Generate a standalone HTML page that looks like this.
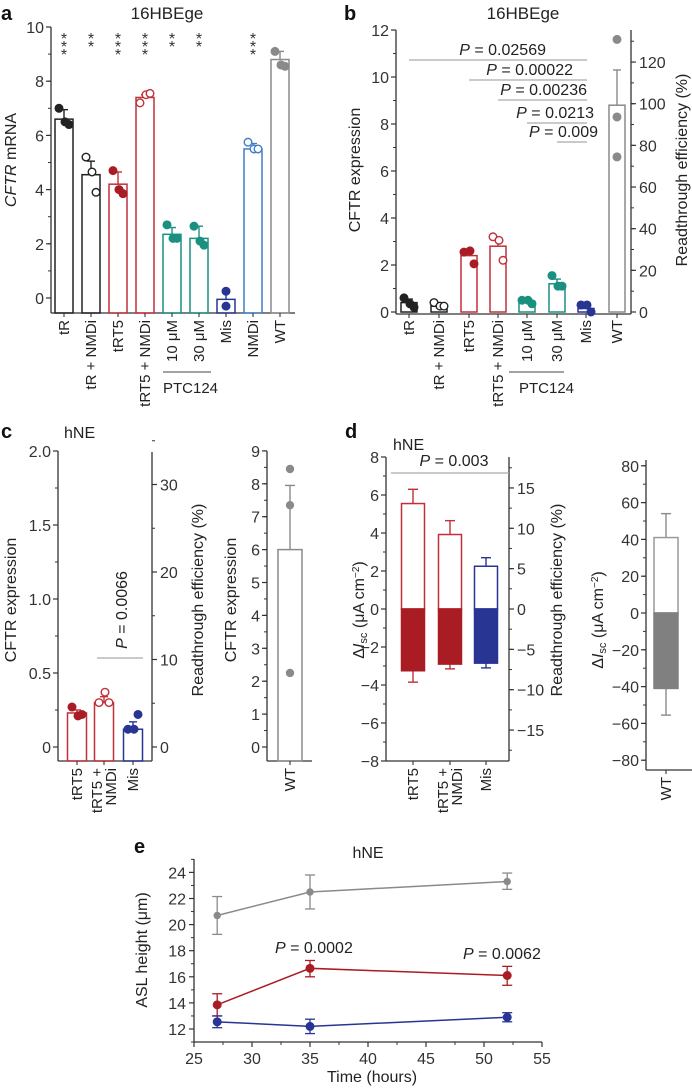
<!DOCTYPE html>
<html><head><meta charset="utf-8">
<style>
html,body{margin:0;padding:0;background:#fff;}
svg{display:block;font-family:"Liberation Sans",sans-serif;}
</style></head>
<body>
<svg id="fig" width="692" height="1088" viewBox="0 0 692 1088" xmlns="http://www.w3.org/2000/svg"></svg>
<script>
// ---------- Panel a data ----------
const aCats = ["tR","tR + NMDi","tRT5","tRT5 + NMDi","10 μM","30 μM","Mis","NMDi","WT"];
const aMeans = [6.6,4.55,4.2,7.4,2.35,2.2,-0.05,5.5,8.8];
const aErr = [6.95,5.05,4.65,7.5,2.6,2.65,0.2,5.7,9.1];
const aPts = [[7.0,6.5,6.4],[5.2,4.65,3.9],[4.7,4.0,3.85],[7.2,7.5,7.55],[2.7,2.2,2.2],[2.65,2.1,1.95],[0.25,-0.3],[5.75,5.5,5.5],[9.1,8.6,8.55]];
const aStars = ["***","**","***","***","**","**","","***",""];
const aTicks = [0,2,4,6,8,10];
// ---------- Panel b data ----------
const bCats = ["tR","tR + NMDi","tRT5","tRT5 + NMDi","10 μM","30 μM","Mis","WT"];
const bMeans = [0.4,0.25,2.4,2.8,0.45,1.2,0.15,8.8];
const bErr = [0.55,0.3,2.6,3.1,0.5,1.4,0.25,10.3];
const bPts = [[0.6,0.35,0.2],[0.4,0.25,0.25],[2.55,2.6,2.05],[3.2,3.05,2.2],[0.5,0.5,0.35],[1.55,1.1,1.1],[0.3,0.3,0.0],[11.6,8.3,6.6]];
const bTicks = [0,2,4,6,8,10,12];
const bRTicks = [0,20,40,60,80,100,120];
const bPvals = ["0.02569","0.00022","0.00236","0.0213","0.009"];
const bPfrom = [0,2,3,4,5];
// ---------- Panel c data ----------
const cCats = ["tRT5","tRT5 +|NMDi","Mis"];
const cMeans = [0.23,0.30,0.12];
const cErr = [0.25,0.34,0.17];
const cPts = [[0.27,0.21,0.22],[0.3,0.37,0.3],[0.12,0.12,0.22]];
const cTicks = [0,0.5,1.0,1.5,2.0];
const cRTicks = [0,10,20,30];
const cWTMean = [6.0];
const cWTErr = [7.95];
const cWTPts = [8.45,7.35,2.25];
const cWTTicks = [0,1,2,3,4,5,6,7,8,9];
// ---------- Panel d data ----------
const dCats = ["tRT5","tRT5 +|NMDi","Mis"];
const dPos = [5.55,3.92,2.25];
const dPosErr = [6.3,4.65,2.7];
const dNeg = [-3.25,-2.9,-2.85];
const dNegErr = [-3.85,-3.15,-3.1];
const dTicks = [-8,-6,-4,-2,0,2,4,6,8];
const dRTicks = [-15,-10,-5,0,5,10,15];
const dWTPos = [41];
const dWTPosErr = [54];
const dWTNeg = [-41];
const dWTNegErr = [-55.5];
const dWTTicks = [-80,-60,-40,-20,0,20,40,60,80];
// ---------- Panel e data ----------
const eTimes = [27,35,52];
const eWT = [20.7,22.5,23.3];
const eWTlo = [19.25,21.2,22.7];
const eWThi = [22.15,23.8,23.95];
const eRT = [13.85,16.65,16.1];
const eRTlo = [13.0,16.0,15.35];
const eRThi = [14.7,17.25,16.8];
const eMis = [12.55,12.2,12.9];
const eMislo = [12.1,11.65,12.55];
const eMishi = [13.0,12.75,13.25];
const eXTicks = [25,30,35,40,45,50,55];
const eYTicks = [12,14,16,18,20,22,24];

const NS="http://www.w3.org/2000/svg";
const svg=document.getElementById('fig');
const AX="#333";
const TF=16, LF=15;
function mk(tag,attrs,name,parent){
  const e=document.createElementNS(NS,tag);
  for(const k in attrs) e.setAttribute(k,attrs[k]);
  
  
  (parent||svg).appendChild(e);
  return e;
}
function line(x1,y1,x2,y2,c,w,name){return mk('line',{x1,y1,x2,y2,stroke:c,'stroke-width':w||1},name);}
function text(x,y,s,o,name){
  o=o||{};
  const t=mk('text',{x,y,'font-size':o.fs||TF,fill:o.fill||'#222','text-anchor':o.anchor||'start'},name);
  if(o.rot) t.setAttribute('transform','rotate(-90,'+x+','+y+')');
  if(o.fw) t.setAttribute('font-weight',o.fw);
  t.textContent=s;
  return t;
}
function vAxis(x,y1,y2,ticks,scale,fmt,side,minorStep,mmin,mmax,name){
  line(x,y1,x,y2,AX,1.3,name+'-line');
  ticks.forEach(v=>{
    const y=scale(v);
    if(side==='left'){line(x-5,y,x,y,AX,1.2,name+'-tick');
      text(x-7,y+6,fmt(v),{anchor:'end',fs:TF,fill:'#333'},name+'-label');}
    else{line(x,y,x+5,y,AX,1.2,name+'-tick');
      text(x+8,y+6,fmt(v),{anchor:'start',fs:TF,fill:'#333'},name+'-label');}
  });
  if(minorStep){for(let v=mmin;v<=mmax+1e-9;v+=minorStep){const y=scale(v);
    if(side==='left') line(x-3,y,x,y,AX,1,name+'-minor-tick'); else line(x,y,x+3,y,AX,1,name+'-minor-tick');}}
}
function rect(x,y1,y2,w,stroke,fill,name){
  const top=Math.min(y1,y2),h=Math.abs(y2-y1);
  return mk('rect',{x:x-w/2,y:top,width:w,height:h,fill:fill||'#fff',stroke:stroke,'stroke-width':1.5},name);
}
function err(x,y1,y2,c,cw,name){line(x,y1,x,y2,c,1.4,name);line(x-cw/2,y2,x+cw/2,y2,c,1.4,name+'-cap');}
function dot(x,y,c,filled,r,name){return mk('circle',{cx:x,cy:y,r:r||3.8,fill:filled?c:'#fff',stroke:c,'stroke-width':1.4},name);}
const fmt0=v=>(v<0?'\u2212':'')+Math.abs(v);
const fmt1=v=>v===0?'0':v.toFixed(1);
const RED="#c0303a",DRED="#aa1c24",TEAL="#1a9080",DBLUE="#283593",LBLUE="#3f7fc8",GRAY="#8a8a8a",BLK="#222";

// ================= Panel a =================
text(1,20,'a',{fs:20,fw:'bold',fill:'#111'},'panel-a-letter');
text(167,19,'16HBEge',{anchor:'middle',fs:17},'panel-a-title');
const ya=v=>298-v*27.1;
const xa=i=>64+i*27;
vAxis(51,27,313,aTicks,ya,fmt0,'left',1,0,10,'a-y-axis');
line(51,313,295,313,AX,1.3,'a-x-axis');
const aCol=[BLK,BLK,RED,RED,TEAL,TEAL,DBLUE,LBLUE,GRAY];
const aFill=[true,false,true,false,true,true,true,false,true];
const aDotCol=[BLK,BLK,DRED,RED,TEAL,TEAL,DBLUE,LBLUE,GRAY];
const dxs=[-5,1,5];
aCats.forEach((c,i)=>{
  const x=xa(i);
  err(x,ya(aMeans[i]),ya(aErr[i]),aCol[i],8,'a-error-bar');
  rect(x,313,ya(aMeans[i]),18,aCol[i],'none','a-bar-'+i);
  aPts[i].forEach((v,j)=>dot(x+(aPts[i].length===2?0:dxs[j]),ya(v),aDotCol[i],aFill[i],3.8,'a-point'));
  line(x,313,x,317,AX,1.1,'a-x-tick');
  text(x+5,320,c,{anchor:'end',rot:true,fs:LF},'a-x-label');
  const st=aStars[i];
  for(let k=0;k<st.length;k++) text(x,44+k*8,'*',{anchor:'middle',fs:16,fill:'#333'},'a-significance-star');
});
line(163,372,211,372,'#444',1,'a-ptc124-line');
text(163,393,'PTC124',{fs:LF},'a-ptc124-label');
const ta=text(16,160,'',{anchor:'middle',rot:true,fs:TF},'a-y-axis-title');
ta.innerHTML='<tspan font-style="italic">CFTR</tspan> mRNA';

// ================= Panel b =================
text(344,20,'b',{fs:20,fw:'bold',fill:'#111'},'panel-b-letter');
text(523,19,'16HBEge',{anchor:'middle',fs:17},'panel-b-title');
const yb=v=>312-v*23.5;
const rb=p=>312-p*2.083;
const xbArr=[409,439,469,498,527,557,586,617];
vAxis(396,30,314,bTicks,yb,fmt0,'left',1,0,12,'b-y-axis');
vAxis(631,30,314,bRTicks,rb,fmt0,'right',10,0,130,'b-y2-axis');
line(396,314,631,314,AX,1.3,'b-x-axis');
const bCol=[BLK,BLK,RED,RED,TEAL,TEAL,DBLUE,GRAY];
const bFill=[true,false,true,false,true,true,true,true];
const bDotCol=[BLK,BLK,DRED,RED,TEAL,TEAL,DBLUE,GRAY];
bCats.forEach((c,i)=>{
  const x=xbArr[i];
  err(x,yb(bMeans[i]),yb(bErr[i]),bCol[i],8,'b-error-bar');
  rect(x,yb(0),yb(bMeans[i]),16,bCol[i],'none','b-bar-'+i);
  bPts[i].forEach((v,j)=>dot(x+(i===7?0:dxs[j]),yb(v),bDotCol[i],bFill[i],3.8,'b-point'));
  line(x,314,x,318,AX,1.1,'b-x-tick');
  text(x+5,320,c,{anchor:'end',rot:true,fs:LF},'b-x-label');
});
const bPy=[60,80,100,123,142];
const bPx=[546,573,587,594,598];
bPvals.forEach((p,k)=>{
  const x1=xbArr[bPfrom[k]];
  line(x1,bPy[k],587,bPy[k],'#aaa',1.3,'b-pvalue-line');
  const t=text(bPx[k],bPy[k]-5,'',{anchor:'end',fs:TF},'b-pvalue-label');
  t.innerHTML='<tspan font-style="italic">P</tspan> = '+p;
});
line(509,372,564,372,'#444',1,'b-ptc124-line');
text(519,393,'PTC124',{fs:LF},'b-ptc124-label');
text(360,170,'CFTR expression',{anchor:'middle',rot:true,fs:TF},'b-y-axis-title');
text(687,170,'Readthrough efficiency (%)',{anchor:'middle',rot:true,fs:TF},'b-y2-axis-title');

// ================= Panel c =================
text(1,438,'c',{fs:20,fw:'bold',fill:'#111'},'panel-c-letter');
text(64,438,'hNE',{fs:TF},'panel-c-title');
const yc=v=>747-v*148;
const rc=p=>747-p*8.75;
vAxis(58,451,761,cTicks,yc,fmt1,'left',0.25,0,2,'c-y-axis');
vAxis(152,452,761,cRTicks,rc,fmt0,'right',5,0,35,'c-y2-axis');
line(58,761,152,761,AX,1.3,'c-x-axis');
const cxArr=[77,104,133];
const cCol=[RED,RED,DBLUE],cDot=[DRED,RED,DBLUE],cFill=[true,false,true];
cCats.forEach((c,i)=>{
  const x=cxArr[i];
  err(x,yc(cMeans[i]),yc(cErr[i]),cCol[i],8,'c-error-bar');
  rect(x,761,yc(cMeans[i]),19,cCol[i],'none','c-bar-'+i);
  cPts[i].forEach((v,j)=>dot(x+dxs[j],yc(v),cDot[i],cFill[i],3.8,'c-point'));
  line(x,761,x,765,AX,1.1,'c-x-tick');
  const parts=c.split('|');
  parts.forEach((p,k)=>text(x+5-(parts.length-1-k)*14+(parts.length>1?7:0),768,p,{anchor:'end',rot:true,fs:LF},'c-x-label'));
});
line(97,658,143,658,'#aaa',1.3,'c-pvalue-line');
const tc=text(127,610,'',{anchor:'middle',rot:true,fs:TF},'c-pvalue-label');
tc.innerHTML='<tspan font-style="italic">P</tspan> = 0.0066';
text(16,600,'CFTR expression',{anchor:'middle',rot:true,fs:TF},'c-y-axis-title');
text(203,600,'Readthrough efficiency (%)',{anchor:'middle',rot:true,fs:TF},'c-y2-axis-title');
// WT inset c
const ycw=v=>747-v*32.9;
vAxis(267,451,761,cWTTicks,ycw,fmt0,'left',0.5,0,9,'c-wt-y-axis');
line(267,761,312,761,AX,1.3,'c-wt-x-axis');
err(290,ycw(cWTMean[0]),ycw(cWTErr[0]),GRAY,10,'c-wt-error-bar');
rect(290,761,ycw(cWTMean[0]),24,GRAY,'none','c-wt-bar');
cWTPts.forEach(v=>dot(290,ycw(v),GRAY,true,3.5,'c-wt-point'));
line(290,761,290,765,AX,1.1,'c-wt-x-tick');
text(295,768,'WT',{anchor:'end',rot:true,fs:LF},'c-wt-x-label');
text(236,600,'CFTR expression',{anchor:'middle',rot:true,fs:TF},'c-wt-y-axis-title');

// ================= Panel d =================
text(345,438,'d',{fs:20,fw:'bold',fill:'#111'},'panel-d-letter');
text(393,450,'hNE',{fs:TF},'panel-d-title');
const yd=v=>609-v*19;
const rd=p=>609-p*8.07;
vAxis(386,457,761,dTicks,yd,fmt0,'left',1,-8,8,'d-y-axis');
vAxis(509,457,761,dRTicks,rd,fmt0,'right',2.5,-17.5,17.5,'d-y2-axis');
line(386,761,509,761,AX,1.3,'d-x-axis');
const dxArr=[413,450,486];
const dCol=[RED,RED,DBLUE],dFill=[DRED,DRED,DBLUE];
dCats.forEach((c,i)=>{
  const x=dxArr[i];
  err(x,yd(dPos[i]),yd(dPosErr[i]),dCol[i],10,'d-error-bar-pos');
  err(x,yd(dNeg[i]),yd(dNegErr[i]),dCol[i],10,'d-error-bar-neg');
  rect(x,yd(0),yd(dPos[i]),23,dCol[i],'#fff','d-bar-pos-'+i);
  rect(x,yd(0),yd(dNeg[i]),23,dFill[i],dFill[i],'d-bar-neg-'+i);
  line(x,761,x,765,AX,1.1,'d-x-tick');
  const parts=c.split('|');
  parts.forEach((p,k)=>text(x+5-(parts.length-1-k)*14+(parts.length>1?7:0),768,p,{anchor:'end',rot:true,fs:LF},'d-x-label'));
});
line(391,473,509,473,'#aaa',1.3,'d-pvalue-line');
const td=text(454,466,'',{anchor:'middle',fs:TF},'d-pvalue-label');
td.innerHTML='<tspan font-style="italic">P</tspan> = 0.003';
const tdy=text(364,610,'',{anchor:'middle',rot:true,fs:TF},'d-y-axis-title');
tdy.innerHTML='Δ<tspan font-style="italic">I</tspan><tspan font-size="11" dy="3">sc</tspan><tspan dy="-3"> (μA cm</tspan><tspan font-size="10" dy="-5">−2</tspan><tspan dy="5">)</tspan>';
text(562,600,'Readthrough efficiency (%)',{anchor:'middle',rot:true,fs:TF},'d-y2-axis-title');
// WT inset d
const ydw=v=>613-v*1.84;
vAxis(646,460,770,dWTTicks,ydw,fmt0,'left',10,-80,80,'d-wt-y-axis');
line(646,770,692,770,AX,1.3,'d-wt-x-axis');
err(666,ydw(dWTPos[0]),ydw(dWTPosErr[0]),GRAY,10,'d-wt-error-bar-pos');
err(666,ydw(dWTNeg[0]),ydw(dWTNegErr[0]),GRAY,10,'d-wt-error-bar-neg');
rect(666,ydw(0),ydw(dWTPos[0]),24,'#999','#fff','d-wt-bar-pos');
rect(666,ydw(0),ydw(dWTNeg[0]),24,'#808080','#808080','d-wt-bar-neg');
line(666,770,666,774,AX,1.1,'d-wt-x-tick');
text(671,777,'WT',{anchor:'end',rot:true,fs:LF},'d-wt-x-label');
const tdw=text(603,620,'',{anchor:'middle',rot:true,fs:TF},'d-wt-y-axis-title');
tdw.innerHTML='Δ<tspan font-style="italic">I</tspan><tspan font-size="11" dy="3">sc</tspan><tspan dy="-3"> (μA cm</tspan><tspan font-size="10" dy="-5">−2</tspan><tspan dy="5">)</tspan>';

// ================= Panel e =================
text(134,853,'e',{fs:20,fw:'bold',fill:'#111'},'panel-e-letter');
text(368,858,'hNE',{anchor:'middle',fs:TF},'panel-e-title');
const xe=t=>194+(t-25)*11.6;
const ye=v=>1029-(v-12)*13.05;
line(194,859,194,1042,AX,1.3,'e-y-axis-line');
eYTicks.forEach(v=>{line(189,ye(v),194,ye(v),AX,1.2,'e-y-tick');text(186,ye(v)+6,String(v),{anchor:'end',fs:TF,fill:'#333'},'e-y-label');});
for(let v=11;v<=25;v++){if(v%2) line(191,ye(v),194,ye(v),AX,1,'e-y-minor-tick');}
line(194,1042,542,1042,AX,1.3,'e-x-axis-line');
eXTicks.forEach(t=>{line(xe(t),1042,xe(t),1047,AX,1.2,'e-x-tick');text(xe(t),1064,String(t),{anchor:'middle',fs:TF,fill:'#333'},'e-x-label');});
for(let t=27.5;t<55;t+=5) line(xe(t),1042,xe(t),1045,AX,1,'e-x-minor-tick');
function series(vals,lo,hi,c,name){
  const pts=eTimes.map((t,i)=>xe(t)+','+ye(vals[i])).join(' ');
  mk('polyline',{points:pts,fill:'none',stroke:c,'stroke-width':1.5},name+'-line');
  eTimes.forEach((t,i)=>{const x=xe(t);
    line(x,ye(lo[i]),x,ye(hi[i]),c,1.3,name+'-error-bar');
    line(x-5,ye(lo[i]),x+5,ye(lo[i]),c,1.3,name+'-error-cap');
    line(x-5,ye(hi[i]),x+5,ye(hi[i]),c,1.3,name+'-error-cap');
    dot(x,ye(vals[i]),c,true,c===GRAY?3:3.8,name+'-point');});
}
series(eWT,eWTlo,eWThi,GRAY,'e-wt');
series(eRT,eRTlo,eRThi,DRED,'e-trt5');
series(eMis,eMislo,eMishi,DBLUE,'e-mis');
const te1=text(275,953,'',{fs:TF},'e-pvalue-35h');
te1.innerHTML='<tspan font-style="italic">P</tspan> = 0.0002';
const te2=text(463,959,'',{fs:TF},'e-pvalue-52h');
te2.innerHTML='<tspan font-style="italic">P</tspan> = 0.0062';
text(147,950,'ASL height (μm)',{anchor:'middle',rot:true,fs:TF},'e-y-axis-title');
text(372,1082,'Time (hours)',{anchor:'middle',fs:TF},'e-x-axis-title');
</script>
</body></html>
